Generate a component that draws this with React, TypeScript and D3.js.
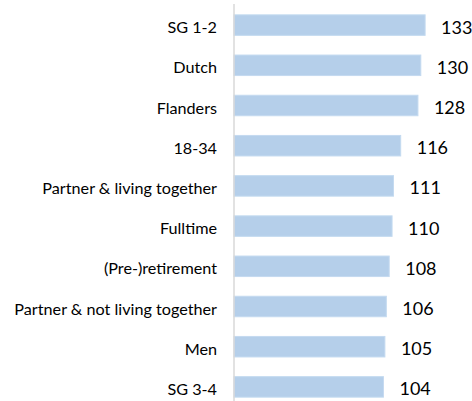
import React, { useEffect, useRef } from 'react';
import * as d3 from 'd3';

const categories = [
  'SG 1-2',
  'Dutch',
  'Flanders',
  '18-34',
  'Partner & living together',
  'Fulltime',
  '(Pre-)retirement',
  'Partner & not living together',
  'Men',
  'SG 3-4',
];
const values = [133, 130, 128, 116, 111, 110, 108, 106, 105, 104];

const App = () => {
  const ref = useRef<SVGSVGElement>(null);

  useEffect(() => {
    const svg = d3.select(ref.current);
    svg.selectAll('*').remove();

    const height = 401;
    const axisX = 234;

    const x = d3.scaleLinear().domain([0, 140]).range([axisX, axisX + 140 * 1.437]);
    const y = d3
      .scaleBand()
      .domain(categories)
      .range([5, 407])
      .paddingInner(0.49)
      .paddingOuter(0.245);

    const rows = categories.map((c, i) => ({ cat: c, value: values[i] }));

    // bars
    svg.selectAll('.bar')
      .data(rows)
      .enter()
      .append('rect')
      .attr('class', 'bar')
      .attr('x', x(0))
      .attr('y', d => y(d.cat))
      .attr('width', d => x(d.value) - x(0))
      .attr('height', y.bandwidth())
      .attr('fill', '#b5cfea')
      .attr('stroke', '#c4daf0')
      .attr('stroke-width', 1);

    // vertical axis line
    svg.append('line')
      .attr('x1', axisX)
      .attr('x2', axisX)
      .attr('y1', 4)
      .attr('y2', height)
      .attr('stroke', '#d9d9d9')
      .attr('stroke-width', 1.5);

    // category labels
    svg.selectAll('.cat')
      .data(rows)
      .enter()
      .append('text')
      .attr('class', 'cat')
      .attr('x', 217)
      .attr('y', d => y(d.cat) + y.bandwidth() / 2 + 1.5)
      .attr('text-anchor', 'end')
      .attr('dominant-baseline', 'central')
      .attr('font-family', 'Lato, sans-serif')
      .attr('font-size', 16.2)
      .attr('fill', '#000')
      .text(d => d.cat);

    // value labels
    svg.selectAll('.val')
      .data(rows)
      .enter()
      .append('text')
      .attr('class', 'val')
      .attr('x', d => x(d.value) + 16)
      .attr('y', d => y(d.cat) + y.bandwidth() / 2 + 1.5)
      .attr('dominant-baseline', 'central')
      .attr('font-family', 'Lato, sans-serif')
      .attr('font-size', 18)
      .attr('fill', '#000')
      .text(d => d.value);
  }, []);

  return (
    <svg
      ref={ref}
      width={472}
      height={401}
      style={{ position: 'absolute', left: 0, top: 0, background: '#fff' }}
    />
  );
};

export default App;
